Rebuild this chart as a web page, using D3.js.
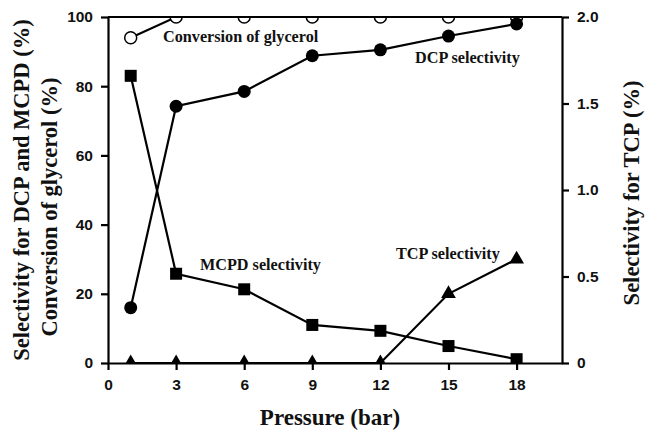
<!DOCTYPE html>
<html><head><meta charset="utf-8">
<script src="https://cdn.jsdelivr.net/npm/d3@7"></script>
<style>body{margin:0;background:#fff}</style>
</head><body>
<svg id="c" width="647" height="431"></svg>
<script>
const pressure = [1, 3, 6, 9, 12, 15, 18];
const conversion = [94, 100, 100, 100, 100, 100, 100];
const dcp = [16, 74.2, 78.5, 88.8, 90.5, 94.5, 98];
const mcpd = [83, 25.8, 21.3, 11, 9.3, 4.9, 1.1];
const tcp = [0, 0, 0, 0, 0, 0.4, 0.6];
const xTicks = [0, 3, 6, 9, 12, 15, 18];
const yLeftTicks = [0, 20, 40, 60, 80, 100];
const yRightTicks = [0, 0.5, 1.0, 1.5, 2.0];
const yRightLabels = ["0", "0.5", "1.0", "1.5", "2.0"];

const svg = d3.select("#c");
const L = 108, R = 562, T = 17, B = 363;
const x = d3.scaleLinear().domain([0, 20]).range([L, R]);
const yL = d3.scaleLinear().domain([0, 100]).range([B, T]);
const yR = d3.scaleLinear().domain([0, 2]).range([B, T]);

const tickFont = "'Liberation Sans', Arial, sans-serif";
const serif = "'Liberation Serif', 'Times New Roman', serif";

function styleAxis(g) {
  g.selectAll("path").attr("stroke", "#000").attr("stroke-width", 2.2);
  g.selectAll("line").attr("stroke", "#000").attr("stroke-width", 2.2);
  g.selectAll("text").attr("font-family", tickFont).attr("font-weight", "bold")
    .attr("font-size", 15.5).attr("fill", "#111");
}

const plot = svg.append("g");

function series(vals, yScale) {
  return pressure.map((p, i) => [x(p), yScale(vals[i])]);
}
const line = d3.line();

// conversion
const conv = series(conversion, yL);
plot.append("path").attr("d", line(conv)).attr("fill", "none").attr("stroke", "#000").attr("stroke-width", 2.2);
plot.selectAll(".conv").data(conv).join("circle")
  .attr("cx", d => d[0]).attr("cy", d => d[1]).attr("r", 6)
  .attr("fill", "#fff").attr("stroke", "#000").attr("stroke-width", 1.5);

// MCPD
const mc = series(mcpd, yL);
plot.append("path").attr("d", line(mc)).attr("fill", "none").attr("stroke", "#000").attr("stroke-width", 2.2);
plot.selectAll(".mc").data(mc).join("rect")
  .attr("x", d => d[0] - 6).attr("y", d => d[1] - 6).attr("width", 12).attr("height", 12)
  .attr("fill", "#000");

// DCP
const dc = series(dcp, yL);
plot.append("path").attr("d", line(dc)).attr("fill", "none").attr("stroke", "#000").attr("stroke-width", 2.2);
plot.selectAll(".dc").data(dc).join("circle")
  .attr("cx", d => d[0]).attr("cy", d => d[1]).attr("r", 6.5).attr("fill", "#000");

// TCP
const tc = series(tcp, yR);
plot.append("path").attr("d", line(tc)).attr("fill", "none").attr("stroke", "#000").attr("stroke-width", 2.2);
const tri = d3.symbol().type(d3.symbolTriangle).size(95);
plot.selectAll(".tc").data(tc).join("path")
  .attr("d", tri).attr("transform", d => `translate(${d[0]},${d[1]})`).attr("fill", "#000");

// mask marks outside the plot area (top and bottom)
svg.append("rect").attr("x", L - 2).attr("y", 0).attr("width", R - L + 4).attr("height", T).attr("fill", "#fff");
svg.append("rect").attr("x", L - 2).attr("y", B).attr("width", R - L + 4).attr("height", 12).attr("fill", "#fff");

// top frame line
svg.append("line").attr("x1", L).attr("x2", R).attr("y1", T).attr("y2", T)
  .attr("stroke", "#000").attr("stroke-width", 2.2);

svg.append("g").attr("transform", `translate(0,${B})`)
  .call(d3.axisBottom(x).tickValues(xTicks).tickSize(7).tickSizeOuter(0).tickPadding(9))
  .call(styleAxis);
svg.append("g").attr("transform", `translate(${L},0)`)
  .call(d3.axisLeft(yL).tickValues(yLeftTicks).tickSize(7).tickSizeOuter(0).tickPadding(8))
  .call(styleAxis);
svg.append("g").attr("transform", `translate(${R},0)`)
  .call(d3.axisRight(yR).tickValues(yRightTicks).tickFormat((d, i) => yRightLabels[i]).tickSize(7).tickSizeOuter(0).tickPadding(8))
  .call(styleAxis);

// series labels
function lab(t, px, py) {
  svg.append("text").attr("x", px).attr("y", py).text(t)
    .attr("font-family", serif).attr("font-weight", "bold").attr("font-size", 16.2).attr("fill", "#111");
}
lab("Conversion of glycerol", 163, 42);
lab("DCP selectivity", 415, 63);
lab("MCPD selectivity", 200, 270);
lab("TCP selectivity", 396, 259);

// axis titles
const tsz = 22.5;
svg.append("text").attr("x", 330).attr("y", 425).attr("text-anchor", "middle")
  .text("Pressure (bar)").attr("font-family", serif).attr("font-weight", "bold").attr("font-size", 23).attr("fill", "#111");
svg.append("text").attr("transform", "translate(29,190) rotate(-90)").attr("text-anchor", "middle")
  .text("Selectivity for DCP and MCPD (%)").attr("font-family", serif).attr("font-weight", "bold").attr("font-size", tsz).attr("fill", "#111");
svg.append("text").attr("transform", "translate(57,207) rotate(-90)").attr("text-anchor", "middle")
  .text("Conversion of glycerol (%)").attr("font-family", serif).attr("font-weight", "bold").attr("font-size", tsz).attr("fill", "#111");
svg.append("text").attr("transform", "translate(639,193) rotate(-90)").attr("text-anchor", "middle")
  .text("Selectivity for TCP (%)").attr("font-family", serif).attr("font-weight", "bold").attr("font-size", tsz).attr("fill", "#111");
</script>
</body></html>
